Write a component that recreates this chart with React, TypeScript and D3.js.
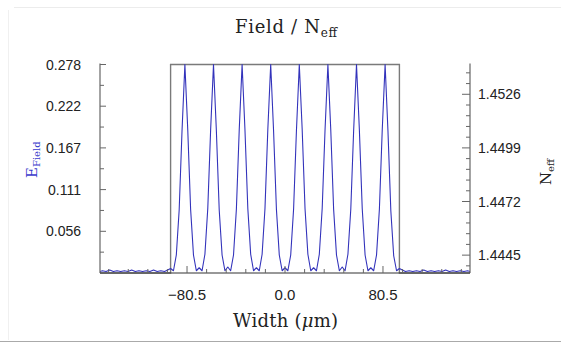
import React from "react";
import * as d3 from "d3";

// ---- data ----
const fieldX = [
  -152, -150, -147, -144, -141, -138, -135, -132, -129, -126, -123, -120, -117, -114, -111, -108, -105, -102, -99, -96.35,
  -94, -91.65, -89.3, -86.95, -84.6, -82.25, -79.9, -77.55, -75.2, -72.85,
  -70.5, -68.15, -65.8, -63.45, -61.1, -58.75, -56.4, -54.05, -51.7, -49.35,
  -47, -44.65, -42.3, -39.95, -37.6, -35.25, -32.9, -30.55, -28.2, -25.85,
  -23.5, -21.15, -18.8, -16.45, -14.1, -11.75, -9.4, -7.05, -4.7, -2.35,
  0, 2.35, 4.7, 7.05, 9.4, 11.75, 14.1, 16.45, 18.8, 21.15,
  23.5, 25.85, 28.2, 30.55, 32.9, 35.25, 37.6, 39.95, 42.3, 44.65,
  47, 49.35, 51.7, 54.05, 56.4, 58.75, 61.1, 63.45, 65.8, 68.15,
  70.5, 72.85, 75.2, 77.55, 79.9, 82.25, 84.6, 86.95, 89.3, 91.65,
  94, 96.35, 99, 102, 105, 108, 111, 114, 117, 120, 123, 126, 129, 132, 135, 138, 141, 144, 147, 150, 152,
];
const fieldY = [
  0.002, 0.003, 0.002, 0.004, 0.002, 0.003, 0.002, 0.003, 0.002, 0.004, 0.002, 0.003, 0.002, 0.003, 0.002, 0.004, 0.002, 0.003, 0.002, 0.004,
  0.006, 0.003, 0.024, 0.084, 0.190, 0.278, 0.191, 0.085, 0.024, 0.003,
  0.007, 0.003, 0.025, 0.086, 0.191, 0.278, 0.190, 0.084, 0.024, 0.003,
  0.008, 0.003, 0.024, 0.085, 0.191, 0.278, 0.191, 0.086, 0.025, 0.003,
  0.007, 0.003, 0.025, 0.086, 0.192, 0.278, 0.190, 0.085, 0.024, 0.003,
  0.007, 0.003, 0.024, 0.085, 0.190, 0.278, 0.192, 0.086, 0.025, 0.003,
  0.007, 0.003, 0.025, 0.086, 0.191, 0.278, 0.191, 0.085, 0.024, 0.003,
  0.008, 0.003, 0.025, 0.085, 0.190, 0.278, 0.191, 0.086, 0.024, 0.003,
  0.007, 0.003, 0.024, 0.085, 0.191, 0.278, 0.189, 0.083, 0.023, 0.003,
  0.006, 0.004, 0.002, 0.003, 0.002, 0.003, 0.002, 0.004, 0.002, 0.003, 0.002, 0.003, 0.002, 0.004, 0.002, 0.003, 0.002, 0.003, 0.002, 0.003, 0.002,
];

const neffX = [-152, -94, -94, 94, 94, 152];
const neffY = [1.4436, 1.4436, 1.4541, 1.4541, 1.4436, 1.4436];

const leftTicks = [0.0556, 0.1112, 0.1668, 0.2224, 0.278];
const leftTickLabels = ["0.056", "0.111", "0.167", "0.222", "0.278"];
const leftMinor = [0.0278, 0.0834, 0.139, 0.1946, 0.2502];

const rightTicks = [1.4445, 1.4472, 1.4499, 1.4526];
const rightTickLabels = ["1.4445", "1.4472", "1.4499", "1.4526"];
const rightMinor = [
  1.44396, 1.44504, 1.44558, 1.44612, 1.44666, 1.44774, 1.44828, 1.44882, 1.44936,
  1.45044, 1.45098, 1.45152, 1.45206, 1.45314, 1.45368,
];

const xTicks = [-80.5, 0, 80.5];
const xTickLabels = ["\u221280.5", "0.0", "80.5"];
const xMinor = [-144.9, -128.8, -112.7, -96.6, -64.4, -48.3, -32.2, -16.1, 16.1, 32.2, 48.3, 64.4, 96.6, 112.7, 128.8, 144.9];

export default function App() {
  const W = 561, H = 343;
  const L = 100, R = 470, T = 64.5, B = 273;
  const x = d3.scaleLinear().domain([-152, 152]).range([L, R]);
  const yL = d3.scaleLinear().domain([0, 0.278]).range([B, T]);
  const yR = d3.scaleLinear().domain([1.4436, 1.4541]).range([B, T]);

  const fieldPts: [number, number][] = fieldX.map((v, i) => [v, fieldY[i]]);
  const neffPts: [number, number][] = neffX.map((v, i) => [v, neffY[i]]);
  const fieldPath = d3.line<[number, number]>().x(d => x(d[0])).y(d => yL(d[1]))(fieldPts) || "";
  const neffPath = d3.line<[number, number]>().x(d => x(d[0])).y(d => yR(d[1]))(neffPts) || "";

  const sans = "'Liberation Sans', Arial, sans-serif";
  const serif = "'DejaVu Serif', 'Liberation Serif', serif";
  const axisCol = "#666";
  const txt = "#222";

  return (
    <svg width={W} height={H} style={{ position: "absolute", left: 0, top: 0, background: "#fff" }}>
      <defs>
        <clipPath id="plotclip">
          <rect x={L} y={T - 2} width={R - L} height={B - T + 3} />
        </clipPath>
      </defs>
      {/* outer frame */}
      <line x1={14} y1={7.5} x2={561} y2={7.5} stroke="#ececec" strokeWidth={1} />
      <line x1={8.5} y1={10} x2={8.5} y2={340} stroke="#f0f0f0" strokeWidth={1} />
      <line x1={0} y1={341.5} x2={561} y2={341.5} stroke="#aaa" strokeWidth={1.2} />

      {/* title */}
      <text x={235} y={33} fontFamily={serif} fontSize={18} fill={txt} textLength={102} lengthAdjust="spacing">
        Field / N<tspan fontSize={12} dy={4}>eff</tspan>
      </text>

      {/* N_eff profile */}
      <path d={neffPath} fill="none" stroke="#7a7a7a" strokeWidth={1.4} clipPath="url(#plotclip)" />
      {/* field */}
      <path d={fieldPath} fill="none" stroke="#3333bb" strokeWidth={1.1} strokeLinejoin="round" clipPath="url(#plotclip)" />

      {/* axes lines */}
      <line x1={L} y1={T - 1} x2={L} y2={B} stroke={axisCol} strokeWidth={1.2} />
      <line x1={R} y1={T - 1} x2={R} y2={B} stroke={axisCol} strokeWidth={1.2} />
      <line x1={L} y1={B} x2={R} y2={B} stroke="#333" strokeWidth={1.2} />

      {/* left ticks */}
      {leftTicks.map((v, i) => (
        <g key={"lt" + i}>
          <line x1={L} x2={L + 6} y1={yL(v)} y2={yL(v)} stroke={axisCol} strokeWidth={1} />
          <text x={81} y={yL(v) + 5} textAnchor="end" fontFamily={sans} fontSize={14} fill={txt}>
            {leftTickLabels[i]}
          </text>
        </g>
      ))}
      {leftMinor.map((v, i) => (
        <line key={"lm" + i} x1={L} x2={L + 4} y1={yL(v)} y2={yL(v)} stroke={axisCol} strokeWidth={1} />
      ))}

      {/* right ticks */}
      {rightTicks.map((v, i) => (
        <g key={"rt" + i}>
          <line x1={R - 8} x2={R} y1={yR(v)} y2={yR(v)} stroke={axisCol} strokeWidth={1} />
          <text x={478} y={yR(v) + 5} textAnchor="start" fontFamily={sans} fontSize={14} fill={txt}>
            {rightTickLabels[i]}
          </text>
        </g>
      ))}
      {rightMinor.map((v, i) => (
        <line key={"rm" + i} x1={R - 4} x2={R} y1={yR(v)} y2={yR(v)} stroke={axisCol} strokeWidth={1} />
      ))}

      {/* bottom ticks */}
      {xTicks.map((v, i) => (
        <g key={"xt" + i}>
          <line x1={x(v)} x2={x(v)} y1={B} y2={B - 7} stroke={axisCol} strokeWidth={1} />
          <text x={x(v)} y={300} textAnchor="middle" fontFamily={sans} fontSize={15} fill={txt}>
            {xTickLabels[i]}
          </text>
        </g>
      ))}
      {xMinor.map((v, i) => (
        <line key={"xm" + i} x1={x(v)} x2={x(v)} y1={B} y2={B - 4} stroke={axisCol} strokeWidth={1} />
      ))}

      {/* axis titles */}
      <text x={233} y={327} fontFamily={serif} fontSize={18} fill={txt} textLength={105} lengthAdjust="spacing">
        Width (<tspan fontStyle="italic">μ</tspan>m)
      </text>
      <text transform="translate(37,178) rotate(-90)" fontFamily={serif} fontSize={15} fill="#3a3acc">
        E<tspan fontSize={10} dy={3}>Field</tspan>
      </text>
      <text transform="translate(551,185) rotate(-90)" fontFamily={serif} fontSize={15} fill={txt}>
        N<tspan fontSize={10} dy={3}>eff</tspan>
      </text>
    </svg>
  );
}
